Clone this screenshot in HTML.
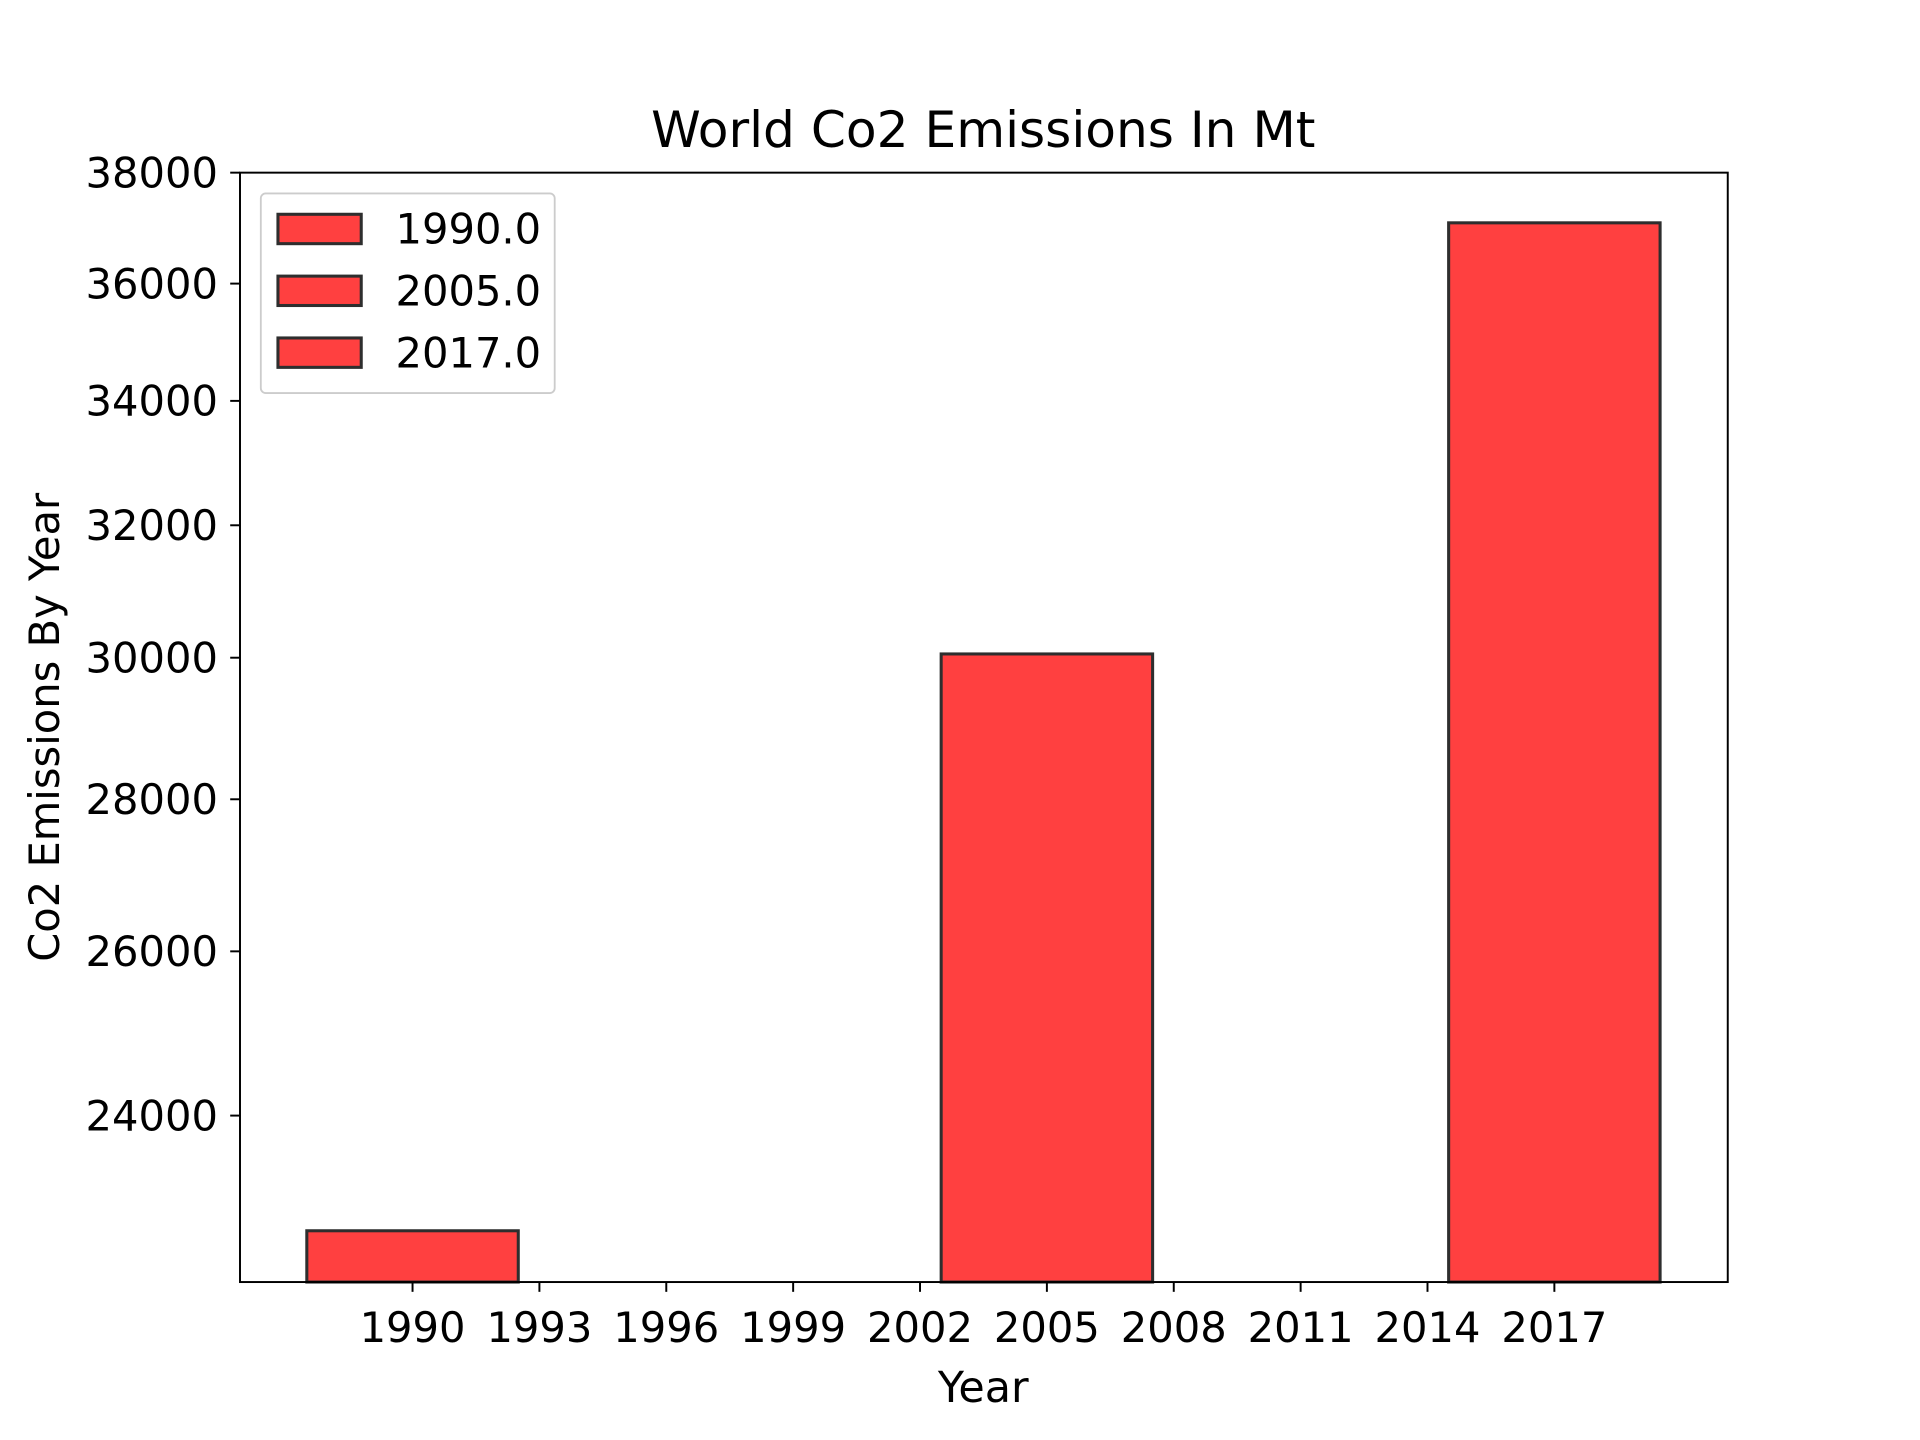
<!DOCTYPE html>
<html><head><meta charset="utf-8"><style>html,body{margin:0;padding:0;background:#fff}svg{display:block}text{font-family:"DejaVu Sans","Liberation Sans",sans-serif;fill:#000}</style></head>
<body>
<svg id="chart" width="1920" height="1440" viewBox="0 0 1568 1176" xmlns="http://www.w3.org/2000/svg">
<rect width="1568" height="1176" fill="#fff"/>
<text x="803" y="120" font-size="41" text-anchor="middle">World Co2 Emissions In Mt</text>
<g id="bars"></g>
<g id="yticks"></g>
<g id="xticks"></g>
<rect x="196" y="141" width="1215" height="906" fill="none" stroke="#000" stroke-width="1.6"/>
<text x="803" y="1145" font-size="35" text-anchor="middle">Year</text>
<text transform="translate(48,594) rotate(-90)" font-size="34" text-anchor="middle">Co2 Emissions By Year</text>
<g id="legend">
<rect x="213" y="158" width="240" height="163" rx="4" fill="#fff" stroke="#ccc" stroke-width="1.5"/>
</g>
</svg>
<script>
const years = [1990, 2005, 2017];
const values = [22690, 30055, 37082];
const yTicks = [24000, 26000, 28000, 30000, 32000, 34000, 36000, 38000];
const xTicks = [1990, 1993, 1996, 1999, 2002, 2005, 2008, 2011, 2014, 2017];
const legendLabels = ["1990.0", "2005.0", "2017.0"];
const NS = "http://www.w3.org/2000/svg";
const L = 196, R = 1411, T = 141, B = 1047;
const xMin = 1985.92, xMax = 2021.1, yMin = 22130, yMax = 38000;
function xs(v) { return L + (v - xMin) / (xMax - xMin) * (R - L); }
function ys(v) { return B - (Math.log(v) - Math.log(yMin)) / (Math.log(yMax) - Math.log(yMin)) * (B - T); }
function mk(tag, attrs, parent) { const e = document.createElementNS(NS, tag); for (const k in attrs) e.setAttribute(k, attrs[k]); parent.appendChild(e); return e; }
const fill = "#ff4040", edge = "#2e2e2e";
const gb = document.getElementById("bars");
years.forEach((y, i) => {
  const x0 = xs(y - 2.5), x1 = xs(y + 2.5), top = ys(values[i]);
  const r = mk("rect", {x: x0, y: top, width: x1 - x0, height: B - top, fill: fill, stroke: edge, "stroke-width": 2.5}, gb);
  
  
});
const gy = document.getElementById("yticks");
yTicks.forEach(v => {
  const y = ys(v);
  mk("line", {x1: L - 8, x2: L, y1: y, y2: y, stroke: "#000", "stroke-width": 1.6}, gy);
  const t = mk("text", {x: L - 18, y: y + 12, "font-size": 34, "text-anchor": "end"}, gy);
  t.textContent = v;
  
  
});
const gx = document.getElementById("xticks");
xTicks.forEach(v => {
  const x = xs(v);
  mk("line", {x1: x, x2: x, y1: B, y2: B + 8, stroke: "#000", "stroke-width": 1.6}, gx);
  const t = mk("text", {x: x, y: B + 49, "font-size": 34, "text-anchor": "middle"}, gx);
  t.textContent = v;
  
  
});
const gl = document.getElementById("legend");
legendLabels.forEach((lab, i) => {
  const yy = 175 + i * 50.5;
  const p = mk("rect", {x: 227, y: yy, width: 68, height: 24, fill: fill, stroke: edge, "stroke-width": 2.5}, gl);
  
  
  const t = mk("text", {x: 323, y: yy + 24, "font-size": 34}, gl);
  t.textContent = lab;
  
  
});
</script>
</body></html>
